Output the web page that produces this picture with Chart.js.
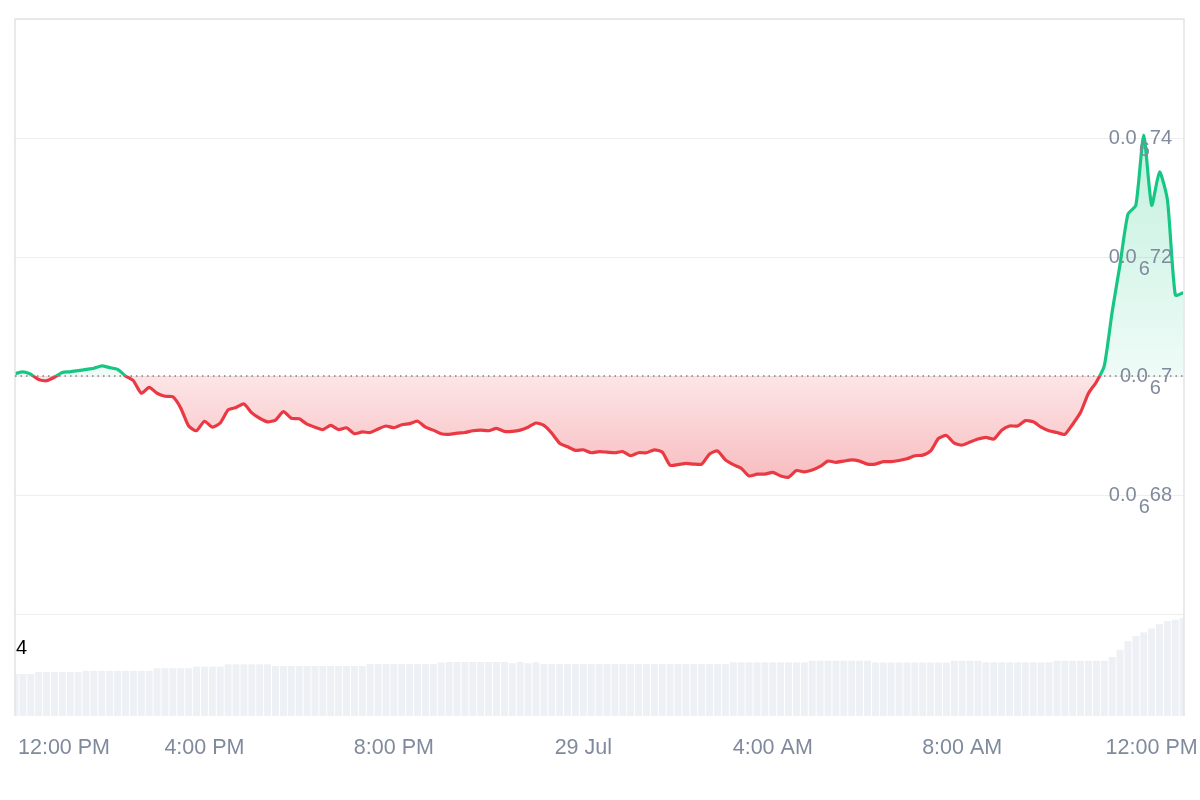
<!DOCTYPE html>
<html lang="en">
  <head>
    <meta charset="UTF-8" />
    <title>Price chart</title>
    <style>
      html, body { margin: 0; padding: 0; background: #fff; }
      #chart { display: block; }
    </style>
  </head>
  <body>
    <canvas id="chart" width="1200" height="800"></canvas>

    <script src="https://cdn.jsdelivr.net/npm/chart.js@4.4.1/dist/chart.umd.min.js"></script>
    <script>
      // one sample every 10 minutes, starting 12:00 PM (28 Jul)
      const stepMinutes = 10;
      const totalMinutes = 1481;

      const prices = [
        7.004e-7, 7.007e-7, 7.003e-7, 6.994e-7, 6.992e-7, 6.998e-7, 7.006e-7, 7.007e-7, 7.009e-7, 7.011e-7,
        7.013e-7, 7.017e-7, 7.014e-7, 7.011e-7, 7.000e-7, 6.992e-7, 6.971e-7, 6.981e-7, 6.971e-7, 6.966e-7,
        6.965e-7, 6.946e-7, 6.916e-7, 6.908e-7, 6.924e-7, 6.914e-7, 6.921e-7, 6.943e-7, 6.947e-7, 6.953e-7,
        6.938e-7, 6.929e-7, 6.923e-7, 6.926e-7, 6.940e-7, 6.929e-7, 6.928e-7, 6.919e-7, 6.914e-7, 6.910e-7,
        6.917e-7, 6.910e-7, 6.913e-7, 6.903e-7, 6.906e-7, 6.905e-7, 6.911e-7, 6.916e-7, 6.913e-7, 6.918e-7,
        6.920e-7, 6.924e-7, 6.914e-7, 6.909e-7, 6.903e-7, 6.902e-7, 6.904e-7, 6.905e-7, 6.908e-7, 6.909e-7,
        6.908e-7, 6.912e-7, 6.907e-7, 6.907e-7, 6.909e-7, 6.914e-7, 6.921e-7, 6.917e-7, 6.904e-7, 6.887e-7,
        6.881e-7, 6.875e-7, 6.876e-7, 6.871e-7, 6.873e-7, 6.872e-7, 6.871e-7, 6.873e-7, 6.866e-7, 6.871e-7,
        6.871e-7, 6.876e-7, 6.872e-7, 6.850e-7, 6.851e-7, 6.853e-7, 6.852e-7, 6.852e-7, 6.869e-7, 6.874e-7,
        6.859e-7, 6.851e-7, 6.845e-7, 6.832e-7, 6.835e-7, 6.835e-7, 6.838e-7, 6.832e-7, 6.830e-7, 6.841e-7,
        6.839e-7, 6.842e-7, 6.848e-7, 6.857e-7, 6.855e-7, 6.857e-7, 6.859e-7, 6.857e-7, 6.852e-7, 6.852e-7,
        6.856e-7, 6.856e-7, 6.858e-7, 6.861e-7, 6.866e-7, 6.867e-7, 6.874e-7, 6.895e-7, 6.900e-7, 6.887e-7,
        6.884e-7, 6.889e-7, 6.894e-7, 6.897e-7, 6.894e-7, 6.909e-7, 6.916e-7, 6.916e-7, 6.925e-7, 6.923e-7,
        6.914e-7, 6.908e-7, 6.905e-7, 6.902e-7, 6.919e-7, 6.939e-7, 6.971e-7, 6.990e-7, 7.017e-7, 7.108e-7,
        7.188e-7, 7.272e-7, 7.287e-7, 7.405e-7, 7.287e-7, 7.343e-7, 7.296e-7, 7.136e-7, 7.140e-7
      ];

      const volumes = [
        2.47, 2.47, 2.47, 2.59, 2.59, 2.59, 2.59, 2.59, 2.59, 2.66,
        2.66, 2.66, 2.66, 2.66, 2.66, 2.66, 2.66, 2.66, 2.81, 2.81,
        2.81, 2.81, 2.81, 2.90, 2.90, 2.90, 2.90, 3.04, 3.04, 3.04,
        3.04, 3.04, 3.04, 2.94, 2.94, 2.94, 2.94, 2.94, 2.94, 2.94,
        2.94, 2.94, 2.94, 2.94, 2.94, 3.06, 3.06, 3.06, 3.06, 3.06,
        3.06, 3.06, 3.06, 3.06, 3.14, 3.18, 3.18, 3.18, 3.18, 3.18,
        3.18, 3.18, 3.18, 3.10, 3.18, 3.10, 3.16, 3.06, 3.06, 3.06,
        3.06, 3.06, 3.06, 3.06, 3.06, 3.06, 3.06, 3.06, 3.06, 3.06,
        3.06, 3.06, 3.06, 3.06, 3.06, 3.06, 3.06, 3.06, 3.06, 3.06,
        3.06, 3.16, 3.16, 3.16, 3.16, 3.16, 3.16, 3.16, 3.16, 3.16,
        3.16, 3.25, 3.25, 3.25, 3.25, 3.25, 3.25, 3.25, 3.25, 3.14,
        3.14, 3.14, 3.14, 3.14, 3.14, 3.14, 3.14, 3.14, 3.14, 3.25,
        3.25, 3.25, 3.25, 3.16, 3.16, 3.16, 3.16, 3.16, 3.16, 3.16,
        3.16, 3.16, 3.25, 3.25, 3.25, 3.25, 3.25, 3.25, 3.25, 3.47,
        3.88, 4.40, 4.70, 4.92, 5.15, 5.40, 5.58, 5.66, 5.75
      ];

      const baselinePrice = 7.0e-7;
      const priceGrid = [6.6e-7, 6.8e-7, 7.0e-7, 7.2e-7, 7.4e-7, 7.6e-7];
      const priceLabelValues = [6.8e-7, 7.0e-7, 7.2e-7, 7.4e-7];
      const volumeLabelValues = [4];
      const volumeTop = 6;

      const timeTicks = [0, 240, 480, 720, 960, 1200, 1440];
      const timeLabels = ['12:00 PM', '4:00 PM', '8:00 PM', '29 Jul', '4:00 AM', '8:00 AM', '12:00 PM'];

      // panel sizes (px) : price pane on top, volume pane under it
      const pricePanePx = 595;
      const volumePanePx = 102;
      const priceMax = priceGrid[priceGrid.length - 1];
      const priceFloor = priceGrid[0];
      const priceMin = priceFloor - ((priceMax - priceFloor) * volumePanePx) / pricePanePx;
      const volumeMax = (volumeTop * (pricePanePx + volumePanePx)) / volumePanePx;

      const GREEN = '#16c784';
      const RED = '#ea3943';
      const TEXT = '#808a9d';
      const FONT = '"Liberation Sans", Arial, sans-serif';

      const pricePoints = prices.map((p, i) => ({ x: i * stepMinutes, y: p }));
      const volumePoints = volumes.map((v, i) => ({ x: i * stepMinutes, y: v }));

      function lineColor(chart) {
        const { chartArea, scales } = chart;
        if (!chartArea) return GREEN;
        const y0 = scales.y.getPixelForValue(baselinePrice);
        const stop = Math.min(1, Math.max(0, (y0 - chartArea.top) / (chartArea.bottom - chartArea.top)));
        const g = chart.ctx.createLinearGradient(0, chartArea.top, 0, chartArea.bottom);
        g.addColorStop(0, GREEN);
        g.addColorStop(stop, GREEN);
        g.addColorStop(stop, RED);
        g.addColorStop(1, RED);
        return g;
      }

      function fillOption(chart) {
        const { chartArea, scales } = chart;
        if (!chartArea) return { target: { value: baselinePrice }, above: 'rgba(22,199,132,0.15)', below: 'rgba(234,57,67,0.2)' };
        const y0 = scales.y.getPixelForValue(baselinePrice);
        const yHi = scales.y.getPixelForValue(Math.max(...prices));
        const yLo = scales.y.getPixelForValue(Math.min(...prices));
        const up = chart.ctx.createLinearGradient(0, yHi, 0, y0);
        up.addColorStop(0, 'rgba(22,199,132,0.26)');
        up.addColorStop(1, 'rgba(22,199,132,0.07)');
        const down = chart.ctx.createLinearGradient(0, y0, 0, yLo);
        down.addColorStop(0, 'rgba(234,57,67,0.13)');
        down.addColorStop(1, 'rgba(234,57,67,0.33)');
        return { target: { value: baselinePrice }, above: up, below: down };
      }

      const overlay = {
        id: 'overlay',
        afterDatasetsDraw(chart) {
          const { ctx, chartArea: a, scales } = chart;
          const y0 = scales.y.getPixelForValue(baselinePrice);
          ctx.save();

          // frame
          ctx.strokeStyle = '#e4e4e4';
          ctx.lineWidth = 1.5;
          ctx.beginPath();
          ctx.moveTo(a.left, a.bottom);
          ctx.lineTo(a.left, a.top);
          ctx.lineTo(a.right, a.top);
          ctx.lineTo(a.right, a.bottom);
          ctx.stroke();

          // dotted opening price line
          ctx.strokeStyle = '#808080';
          ctx.lineWidth = 1.5;
          ctx.setLineDash([1.5, 4]);
          ctx.beginPath();
          ctx.moveTo(a.left, y0);
          ctx.lineTo(a.right, y0);
          ctx.stroke();
          ctx.setLineDash([]);

          // price labels with subscript zero count, e.g. 0.0₆74
          ctx.font = '20px ' + FONT;
          ctx.fillStyle = TEXT;
          ctx.textAlign = 'left';
          ctx.textBaseline = 'middle';
          const right = a.right - 12;
          priceLabelValues.forEach((v) => {
            const y = scales.y.getPixelForValue(v);
            const zeros = -Math.floor(Math.log10(v)) - 1;
            const digits = String(Math.round(v * Math.pow(10, zeros + 2))).replace(/0+$/, '');
            const sub = String(zeros);
            const wD = ctx.measureText(digits).width;
            const wS = ctx.measureText(sub).width;
            const wP = ctx.measureText('0.0').width;
            ctx.fillText(digits, right - wD, y);
            ctx.fillText(sub, right - wD - wS, y + 12);
            ctx.fillText('0.0', right - wD - wS - wP - 2, y);
          });

          // volume axis label
          ctx.fillStyle = '#000';
          volumeLabelValues.forEach((v) => {
            ctx.fillText(String(v), a.left + 1, scales.yv.getPixelForValue(v));
          });

          // time labels
          ctx.font = '21.5px ' + FONT;
          ctx.fillStyle = TEXT;
          timeTicks.forEach((t, i) => {
            const px = scales.x.getPixelForValue(t);
            const w = ctx.measureText(timeLabels[i]).width;
            const left = Math.max(px - w / 2, a.left + 3);
            ctx.fillText(timeLabels[i], left, a.bottom + 32);
          });

          ctx.restore();
        },
      };

      new Chart(document.getElementById('chart'), {
        type: 'line',
        data: {
          datasets: [
            {
              type: 'line',
              data: pricePoints,
              yAxisID: 'y',
              order: 1,
              borderWidth: 3.2,
              pointRadius: 0,
              tension: 0.2,
              borderColor: (c) => lineColor(c.chart),
              fill: (c) => fillOption(c.chart),
            },
            {
              type: 'bar',
              data: volumePoints,
              yAxisID: 'yv',
              order: 2,
              backgroundColor: '#edf0f4',
              borderWidth: 0,
              barPercentage: 0.88,
              categoryPercentage: 1,
            },
          ],
        },
        options: {
          responsive: false,
          animation: false,
          layout: { autoPadding: false, padding: { left: 15, right: 16, top: 19, bottom: 84 } },
          plugins: { legend: { display: false }, tooltip: { enabled: false } },
          scales: {
            x: { type: 'linear', min: 0, max: totalMinutes, offset: false, display: false },
            y: {
              position: 'left',
              min: priceMin,
              max: priceMax,
              ticks: { display: false },
              border: { display: false },
              grid: { color: '#eeeeee', lineWidth: 1, drawTicks: false },
              afterBuildTicks: (s) => {
                s.ticks = priceGrid.map((v) => ({ value: v }));
              },
            },
            yv: { position: 'right', min: 0, max: volumeMax, display: false },
          },
        },
        plugins: [overlay],
      });
    </script>
  </body>
</html>
